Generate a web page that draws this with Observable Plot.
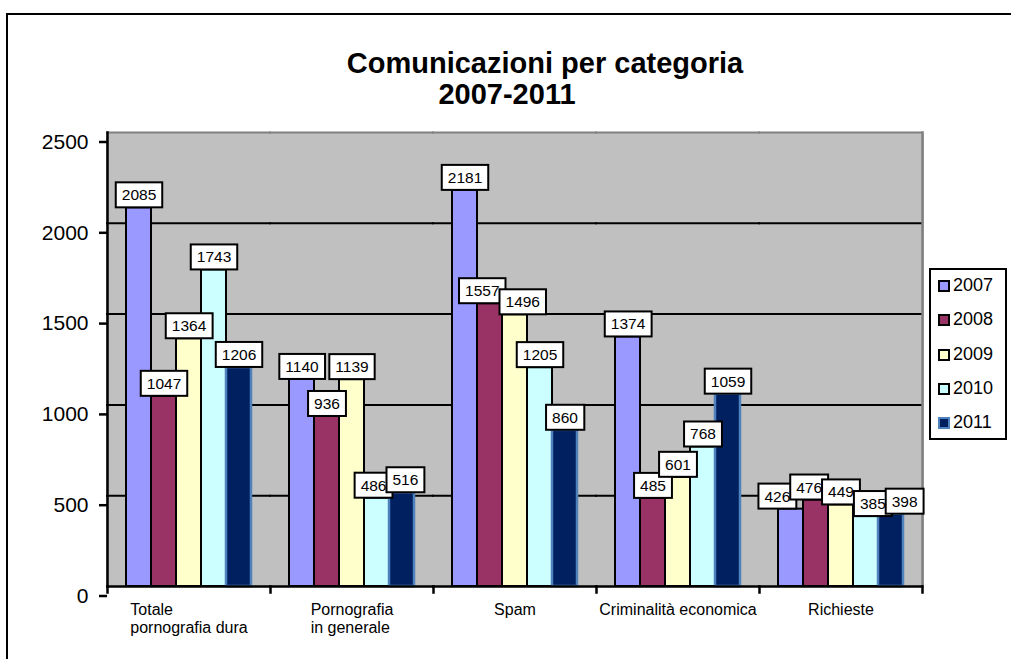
<!DOCTYPE html>
<html>
<head>
<meta charset="utf-8">
<script src="https://cdn.jsdelivr.net/npm/d3@7"></script>
<script src="https://cdn.jsdelivr.net/npm/@observablehq/plot@0.6"></script>
<style>
html, body { margin: 0; padding: 0; background: #fff; }
#wrap { position: relative; width: 1011px; height: 659px; overflow: hidden; font-family: "Liberation Sans", Arial, sans-serif; color: #000; }
#chart { position: absolute; left: 0; top: 0; }
#border { position: absolute; left: 6px; top: 13px; width: 1200px; height: 1000px; border: 2px solid #000; pointer-events: none; }
.title { position: absolute; font-weight: bold; font-size: 29px; line-height: 29px; white-space: nowrap; transform: translateX(-50%); }
#legend { position: absolute; left: 929px; top: 268px; width: 78px; height: 172px; border: 2px solid #000; box-sizing: border-box; background: #fff; }
.item { position: absolute; left: 7px; font-size: 18px; line-height: 18px; height: 18px; white-space: nowrap; }
.sw { display: inline-block; width: 8px; height: 8px; border: 2px solid #000; margin-right: 3px; vertical-align: -1px; }
</style>
</head>
<body>
<div id="wrap">
  <div id="chart"></div>
  <div id="border"></div>
  <div class="title" id="t1" style="left:545px; top:49px;"></div>
  <div class="title" id="t2" style="left:507px; top:80px;"></div>
  <div id="legend"></div>
</div>
<script>
// ---- data ----
const titleLine1 = "Comunicazioni per categoria";
const titleLine2 = "2007-2011";
const categories = ["Totale pornografia dura", "Pornografia in generale", "Spam", "Criminalità economica", "Richieste"];
const categoryLabels = ["Totale\npornografia dura", "Pornografia\nin generale", "Spam", "Criminalità economica", "Richieste"];
const years = ["2007", "2008", "2009", "2010", "2011"];
const v2007 = [2085, 1140, 2181, 1374, 426];
const v2008 = [1047, 936, 1557, 485, 476];
const v2009 = [1364, 1139, 1496, 601, 449];
const v2010 = [1743, 486, 1205, 768, 385];
const v2011 = [1206, 516, 860, 1059, 398];
const yTicks = [0, 500, 1000, 1500, 2000, 2500];
const colors = ["#9999ff", "#993366", "#ffffcc", "#ccffff", "#002060"];
const edge2011 = "#4f81bd";

const series = [v2007, v2008, v2009, v2010, v2011];
const data = categories.flatMap((c, i) => years.map((y, j) => ({cat: c, year: y, value: series[j][i]})));

// ---- layout ----
const W = 1011, H = 659, mL = 107, mR = 89, mT = 132, mB = 73;
const plotH = H - mT - mB;

const svg = Plot.plot({
  width: W, height: H,
  marginLeft: mL, marginRight: mR, marginTop: mT, marginBottom: mB,
  style: {fontFamily: '"Liberation Sans", Arial, sans-serif', fontSize: "16px", color: "#000", background: "transparent"},
  fx: {domain: categories, padding: 0, label: null},
  x: {domain: years, paddingInner: 0, paddingOuter: 0.76, axis: null},
  y: {domain: [0, 2500], label: null},
  color: {domain: years, range: colors},
  marks: [
    Plot.frame({fill: "#c0c0c0", insetLeft: -1.5, insetRight: -1.5}),
    Plot.ruleY(yTicks.slice(1, -1), {stroke: "#000", strokeWidth: 2, insetLeft: -1, insetRight: -1}),
    Plot.ruleY([2500], {stroke: "#808080", strokeWidth: 2, insetLeft: -1, insetRight: -1}),
    Plot.frame({anchor: "right", facetAnchor: "right", stroke: "#808080", strokeWidth: 2.5}),
    Plot.barY(data, {filter: d => d.year !== "2011", fx: "cat", x: "year", y: "value", fill: "year", stroke: "#000", strokeWidth: 2}),
    Plot.barY(data, {filter: d => d.year === "2011", fx: "cat", x: "year", y: "value", fill: "year", stroke: edge2011, strokeWidth: 2.5}),
    Plot.ruleY([0], {stroke: "#000", strokeWidth: 2.5, insetLeft: -1, insetRight: -1}),
    Plot.frame({anchor: "left", facetAnchor: "left", stroke: "#000", strokeWidth: 2.5}),
    Plot.frame({anchor: "left", insetTop: plotH, insetBottom: -6, stroke: "#000", strokeWidth: 2.5}),
    Plot.frame({anchor: "right", facetAnchor: "right", insetTop: plotH, insetBottom: -6, stroke: "#000", strokeWidth: 2.5}),
    Plot.axisY({ticks: yTicks, tickFormat: d => String(d), tickSize: 8, tickPadding: 11, fontSize: 21, dy: 9.5, strokeWidth: 2.5, label: null}),
    Plot.axisFx({anchor: "bottom", tickSize: 0, tickPadding: 15.5, fontSize: 16, lineHeight: 1.15,
      tickFormat: c => categoryLabels[categories.indexOf(c)], label: null}),
    Plot.text(data, {fx: "cat", x: "year", y: "value", text: d => String(d.value), dy: -12.5,
      lineAnchor: "middle", fontSize: 15.5, fill: "#000"})
  ]
});
document.getElementById("chart").append(svg);

// left-align multi-line category labels within a centered block
d3.select(svg).selectAll('g[aria-label="fx-axis tick label"] text').each(function () {
  const tspans = Array.from(this.querySelectorAll("tspan"));
  if (tspans.length > 1) {
    const w = d3.max(tspans, t => t.getComputedTextLength());
    this.setAttribute("text-anchor", "start");
    tspans.forEach(t => t.setAttribute("x", -w / 2));
  }
});

// white boxed data labels, nudged sideways where they collide
const NS = "http://www.w3.org/2000/svg";
const byParent = new Map();
d3.select(svg).selectAll('g[aria-label="text"] text').each(function () {
  const b = this.getBBox();
  const cy = b.y + b.height / 2;
  const r = document.createElementNS(NS, "rect");
  r.setAttribute("x", b.x - 6);
  r.setAttribute("y", cy - 12.5);
  r.setAttribute("width", b.width + 12);
  r.setAttribute("height", 25);
  r.setAttribute("fill", "#fff");
  r.setAttribute("stroke", "#000");
  r.setAttribute("stroke-width", 2);
  const tr = this.getAttribute("transform");
  if (tr) r.setAttribute("transform", tr);
  const g = document.createElementNS(NS, "g");
  const parent = this.parentNode;
  parent.insertBefore(g, this);
  g.appendChild(r);
  g.appendChild(this);
  const bb = r.getBoundingClientRect();
  if (!byParent.has(parent)) byParent.set(parent, []);
  byParent.get(parent).push({g, l: bb.left, r: bb.right, t: bb.top, b: bb.bottom, s: 0});
});
const allowedOverlap = 6, minVertical = 6;
for (const arr of byParent.values()) {
  for (let it = 0; it < 200; ++it) {
    let moved = false;
    for (let i = 0; i < arr.length; ++i) {
      for (let j = i + 1; j < arr.length; ++j) {
        const A = arr[i], B = arr[j];
        const v = Math.min(A.b, B.b) - Math.max(A.t, B.t);
        if (v <= minVertical) continue;
        const ov = Math.min(A.r + A.s, B.r + B.s) - Math.max(A.l + A.s, B.l + B.s);
        if (ov > allowedOverlap + 0.1) {
          const d = (ov - allowedOverlap) / 2;
          A.s -= d; B.s += d; moved = true;
        }
      }
    }
    if (!moved) break;
  }
  arr.forEach(o => o.g.setAttribute("transform", `translate(${o.s},0)`));
}

// title
document.getElementById("t1").textContent = titleLine1;
document.getElementById("t2").textContent = titleLine2;

// legend
const leg = d3.select("#legend");
years.forEach((y, i) => {
  const item = leg.append("div").attr("class", "item").style("top", (6 + i * 34.3) + "px");
  item.append("span").attr("class", "sw")
    .style("background", colors[i])
    .style("border-color", y === "2011" ? edge2011 : "#000");
  item.append("span").text(y);
});
</script>
</body>
</html>
